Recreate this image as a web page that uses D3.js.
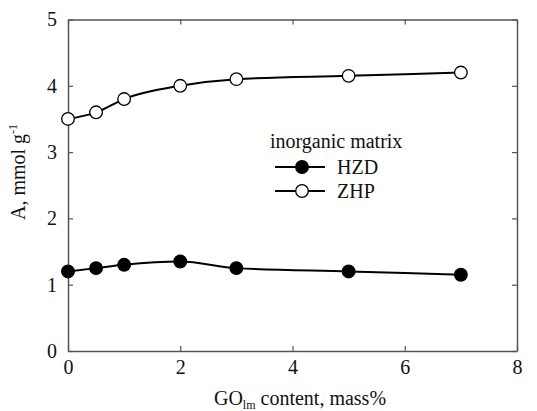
<!DOCTYPE html>
<html>
<head>
<meta charset="utf-8">
<script src="https://cdn.jsdelivr.net/npm/d3@7"></script>
<style>
  body { margin: 0; background: #fff; }
  svg text { font-family: "Liberation Serif", "DejaVu Serif", "Times New Roman", serif; fill: #111; }
</style>
</head>
<body>
<div id="chart"></div>
<script>
// data
const goContent = [0, 0.5, 1, 2, 3, 5, 7];
const hzdValues = [1.2, 1.25, 1.3, 1.35, 1.25, 1.2, 1.15];
const zhpValues = [3.5, 3.6, 3.8, 4.0, 4.1, 4.15, 4.2];
const xTicks = [0, 2, 4, 6, 8];
const yTicks = [0, 1, 2, 3, 4, 5];

const W = 537, H = 411;
const SERIF = '"Liberation Serif", "DejaVu Serif", "Times New Roman", serif';

const svg = d3.select("#chart").append("svg")
    .attr("width", W)
    .attr("height", H);

const x = d3.scaleLinear().domain([0, 8]).range([68, 517]);
const y = d3.scaleLinear().domain([0, 5]).range([351, 19.5]);

const axisColor = "#555";
const TICK = 5;

// frame with inward ticks on all four sides
const g = svg.append("g");

const axBottom = g.append("g").attr("transform", `translate(0,${y(0)})`)
    .call(d3.axisBottom(x).tickValues(xTicks).tickFormat(d3.format("d"))
        .tickSizeInner(-TICK).tickSizeOuter(0).tickPadding(9));
const axTop = g.append("g").attr("transform", `translate(0,${y(5)})`)
    .call(d3.axisTop(x).tickValues(xTicks).tickSizeInner(-TICK).tickSizeOuter(0).tickFormat(""));
const axLeft = g.append("g").attr("transform", `translate(${x(0)},0)`)
    .call(d3.axisLeft(y).tickValues(yTicks).tickFormat(d3.format("d"))
        .tickSizeInner(-TICK).tickSizeOuter(0).tickPadding(11));
const axRight = g.append("g").attr("transform", `translate(${x(8)},0)`)
    .call(d3.axisRight(y).tickValues(yTicks).tickSizeInner(-TICK).tickSizeOuter(0).tickFormat(""));

[axBottom, axTop, axLeft, axRight].forEach(a => {
    a.attr("font-family", SERIF).attr("font-size", 20);
    a.select(".domain").attr("stroke", axisColor).attr("stroke-width", 1.5);
    a.selectAll(".tick line").attr("stroke", axisColor).attr("stroke-width", 1.2);
    a.selectAll(".tick text").attr("fill", "#111");
});

// series
const line = d3.line()
    .x(d => x(d[0]))
    .y(d => y(d[1]))
    .curve(d3.curveMonotoneX);

const series = [
    { name: "HZD", values: hzdValues, fill: "#000" },
    { name: "ZHP", values: zhpValues, fill: "#fff" }
];

series.forEach(s => {
    const pts = goContent.map((v, k) => [v, s.values[k]]);
    svg.append("path")
        .datum(pts)
        .attr("d", line)
        .attr("fill", "none")
        .attr("stroke", "#000")
        .attr("stroke-width", 2);
    svg.selectAll(null)
        .data(pts)
        .enter().append("circle")
        .attr("cx", d => x(d[0]))
        .attr("cy", d => y(d[1]))
        .attr("r", 6.3)
        .attr("fill", s.fill)
        .attr("stroke", "#000")
        .attr("stroke-width", 1.3);
});

// legend
const legend = svg.append("g").attr("transform", "translate(270,0)")
    .attr("font-family", SERIF);
legend.append("text")
    .attr("x", 0).attr("y", 148)
    .attr("font-size", 20)
    .text("inorganic matrix");

series.forEach((s, k) => {
    const ly = 167 + k * 24;
    legend.append("line")
        .attr("x1", 5).attr("x2", 55)
        .attr("y1", ly).attr("y2", ly)
        .attr("stroke", "#000").attr("stroke-width", 2);
    legend.append("circle")
        .attr("cx", 32).attr("cy", ly).attr("r", 6.3)
        .attr("fill", s.fill).attr("stroke", "#000").attr("stroke-width", 1.3);
    legend.append("text")
        .attr("x", 67).attr("y", ly + 7)
        .attr("font-size", 20)
        .text(s.name);
});

// axis titles
const xt = svg.append("text")
    .attr("x", 300).attr("y", 405)
    .attr("text-anchor", "middle")
    .attr("font-family", SERIF)
    .attr("font-size", 20);
xt.append("tspan").text("GO");
xt.append("tspan").attr("dy", 4).attr("font-size", 12).text("lm");
xt.append("tspan").attr("dy", -4).text(" content, mass%");

const yt = svg.append("text")
    .attr("transform", "translate(25,172) rotate(-90)")
    .attr("text-anchor", "middle")
    .attr("font-family", SERIF)
    .attr("font-size", 20);
yt.append("tspan").text("A, mmol g");
yt.append("tspan").attr("dy", -8).attr("font-size", 12).text("-1");
</script>
</body>
</html>
